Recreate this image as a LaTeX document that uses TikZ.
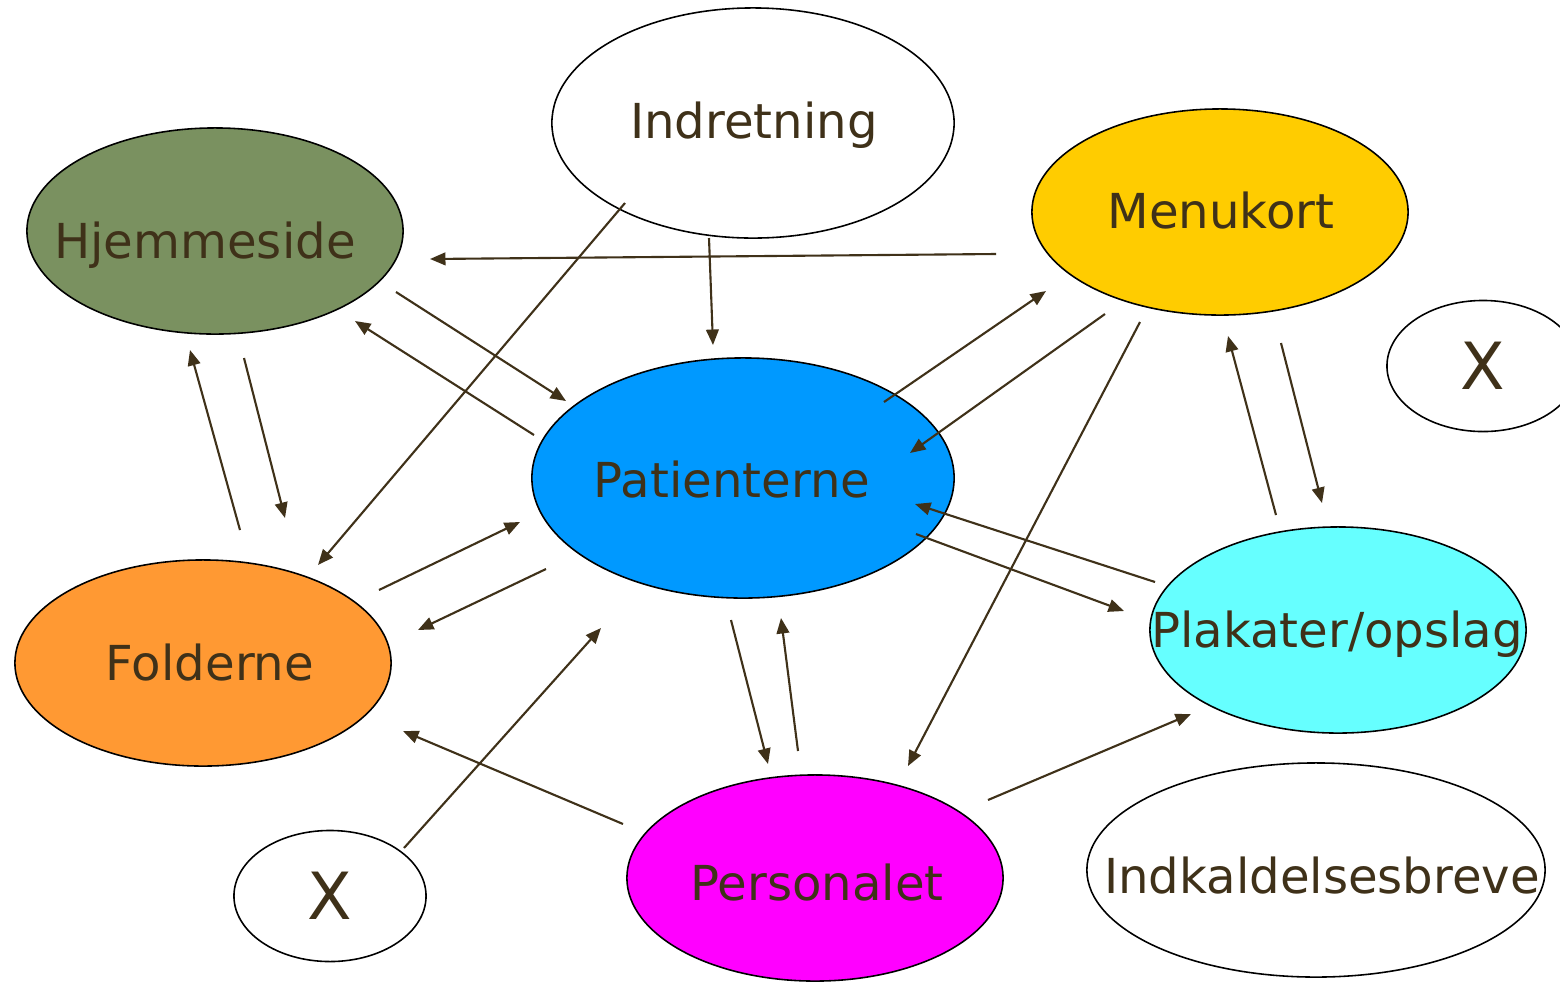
\documentclass[tikz,border=0pt]{standalone}
\usepackage{fontspec}
\setmainfont{DejaVu Sans}
\usetikzlibrary{shapes.geometric,arrows.meta,calc}
\definecolor{ink}{HTML}{3F3119}
\definecolor{olive}{HTML}{7A9160}
\definecolor{gold}{HTML}{FFCC00}
\definecolor{sky}{HTML}{0099FF}
\definecolor{orange}{HTML}{FF9933}
\definecolor{aqua}{HTML}{66FFFF}
\definecolor{magenta}{HTML}{FF00FF}
\tikzset{
  bubble/.style={ellipse, draw=black, line width=0.45pt, inner sep=0pt},
  big/.style={minimum width=3.76cm, minimum height=2.06cm},
  xbubble/.style={bubble, text=ink, font=\fontsize{18.5}{22}\selectfont,
    minimum width=1.92cm, minimum height=1.31cm},
  lbl/.style={anchor=base, inner sep=0pt, text=ink,
    font=\fontsize{13.7}{16}\selectfont},
  arr/.style={draw=ink, line width=0.6pt,
    -{Triangle[length=4.4pt,width=3.6pt]}}
}
\begin{document}
\begin{tikzpicture}[x=0.01cm,y=-0.01cm]
\useasboundingbox (0,0) rectangle (1560,981);
\fill[white] (0,0) rectangle (1560,981);

% ellipses
\node[bubble, fill=white, minimum width=4.02cm, minimum height=2.30cm] (ind) at (753,123) {};
\node[bubble, big, fill=olive] (hj) at (215,231) {};
\node[bubble, big, fill=gold] (men) at (1220,212) {};
\node[xbubble, fill=white] (xr) at (1483,366) {X};
\node[bubble, fill=sky, minimum width=4.22cm, minimum height=2.40cm] (pat) at (743,478) {};
\node[bubble, big, fill=orange] (fol) at (203,663) {};
\node[bubble, big, fill=aqua] (pla) at (1338,630) {};
\node[bubble, big, fill=magenta] (per) at (815,878) {};
\node[bubble, fill=white, minimum width=4.58cm, minimum height=2.14cm] (ink) at (1316,870) {};
\node[xbubble, fill=white] (xl) at (330,896) {X};

% labels, placed on their baselines
\node[lbl] (indt) at (754,138) {Indretning};
\node[lbl] (hjt) at (205,258) {Hjemmeside};
\node[lbl] (ment) at (1221,228) {Menukort};
\node[lbl] (patt) at (732,497) {Patienterne};
\node[lbl] (folt) at (210,680) {Folderne};
\node[lbl] (plat) at (1337,647) {Plakater/opslag};
\node[lbl] (pert) at (817,900) {Personalet};
\node[lbl] (inkt) at (1322,893) {Indkaldelsesbreve};

% connectors
\draw[arr] ($(men)+(-224,42)$) -- ($(hj)+(215,28)$);
\draw[arr] ($(ind)+(-128,80)$) -- ($(fol)+(115,-98)$);
\draw[arr] ($(ind)+(-44,115)$) -- ($(pat)+(-30,-133)$);
\draw[arr] ($(hj)+(181,61)$) -- ($(pat)+(-177,-77)$);
\draw[arr] ($(pat)+(-209,-43)$) -- ($(hj)+(140,90)$);
\draw[arr] ($(fol)+(37,-133)$) -- ($(hj)+(-25,119)$);
\draw[arr] ($(hj)+(29,127)$) -- ($(fol)+(82,-145)$);
\draw[arr] ($(pat)+(141,-76)$) -- ($(men)+(-174,79)$);
\draw[arr] ($(men)+(-115,102)$) -- ($(pat)+(167,-25)$);
\draw[arr] ($(men)+(-80,110)$) -- ($(per)+(93,-112)$);
\draw[arr] ($(pla)+(-62,-115)$) -- ($(men)+(8,124)$);
\draw[arr] ($(men)+(61,131)$) -- ($(pla)+(-16,-127)$);
\draw[arr] ($(pla)+(-183,-48)$) -- ($(pat)+(172,26)$);
\draw[arr] ($(pat)+(173,56)$) -- ($(pla)+(-214,-19)$);
\draw[arr] ($(fol)+(176,-73)$) -- ($(pat)+(-223,44)$);
\draw[arr] ($(pat)+(-197,91)$) -- ($(fol)+(215,-33)$);
\draw[arr] ($(pat)+(-12,142)$) -- ($(per)+(-47,-114)$);
\draw[arr] ($(per)+(-17,-127)$) -- ($(pat)+(38,140)$);
\draw[arr] ($(xl)+(74,-48)$) -- ($(pat)+(-142,150)$);
\draw[arr] ($(per)+(-192,-54)$) -- ($(fol)+(200,68)$);
\draw[arr] ($(per)+(173,-78)$) -- ($(pla)+(-147,84)$);
\end{tikzpicture}
\end{document}
